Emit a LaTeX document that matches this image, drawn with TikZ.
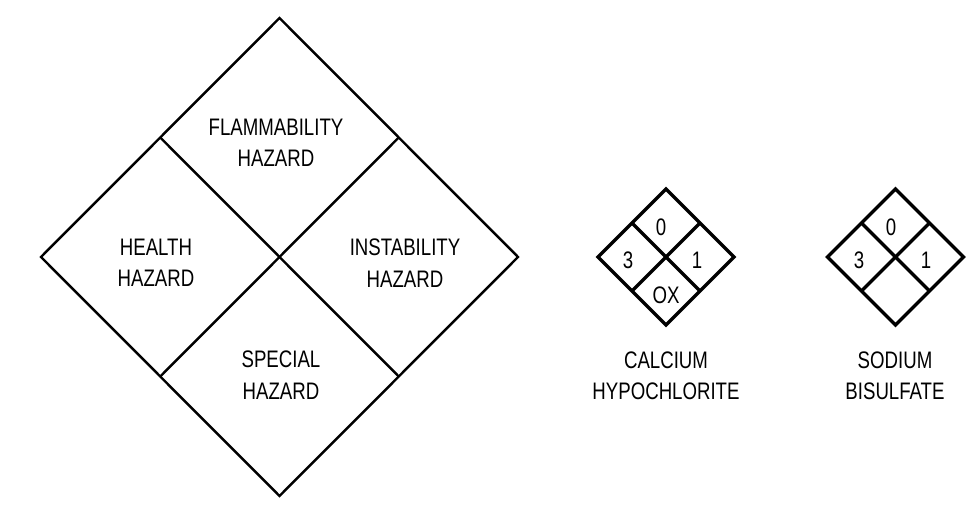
\documentclass[tikz,border=0pt]{standalone}
\usepackage{fontspec}
\setmainfont{Liberation Sans}[FakeStretch=0.78]
\usetikzlibrary{calc}
\tikzset{%
bigline/.style={line width=1.4pt},
smallline/.style={line width=1.9pt},
hazard/.style={align=center, inner sep=0pt, font=\fontsize{13.6}{17.9}\selectfont},
}

\begin{document}
\begin{tikzpicture}[x=0.02cm,y=-0.02cm]
\useasboundingbox (0,0) rectangle (968,509);

% big placard
\coordinate (N) at (279.5,18);
\coordinate (E) at (518,257);
\coordinate (S) at (279.5,496);
\coordinate (W) at (41,257);
\draw[bigline] (N) -- (E) -- (S) -- (W) -- cycle;
\draw[bigline] ($(N)!0.5!(W)$) -- ($(S)!0.5!(E)$);
\draw[bigline] ($(N)!0.5!(E)$) -- ($(S)!0.5!(W)$);

\node[hazard] (flam)   at (276,143) {FLAMMABILITY\\HAZARD};
\node[hazard] (health) at (156,263) {HEALTH\\HAZARD};
\node[hazard] (instab) at (405,263) {INSTABILITY\\HAZARD};
\node[hazard] (spec)   at (281,375) {SPECIAL\\HAZARD};

% calcium hypochlorite
\coordinate (caN) at (666,189);
\coordinate (caE) at (734,257);
\coordinate (caS) at (666,325);
\coordinate (caW) at (598,257);
\draw[smallline] (caN) -- (caE) -- (caS) -- (caW) -- cycle;
\draw[smallline] ($(caN)!0.5!(caW)$) -- ($(caS)!0.5!(caE)$);
\draw[smallline] ($(caN)!0.5!(caE)$) -- ($(caS)!0.5!(caW)$);
\node[hazard] (caflam)   at (661,227) {0};
\node[hazard] (cahealth) at (628,260) {3};
\node[hazard] (cainstab) at (697,260) {1};
\node[hazard] (caspec)   at (666,295) {OX};
\node[hazard] (caname)   at (666,376) {CALCIUM\\HYPOCHLORITE};

% sodium bisulfate
\coordinate (sbN) at (895.5,189);
\coordinate (sbE) at (963.5,257);
\coordinate (sbS) at (895.5,325);
\coordinate (sbW) at (827.5,257);
\draw[smallline] (sbN) -- (sbE) -- (sbS) -- (sbW) -- cycle;
\draw[smallline] ($(sbN)!0.5!(sbW)$) -- ($(sbS)!0.5!(sbE)$);
\draw[smallline] ($(sbN)!0.5!(sbE)$) -- ($(sbS)!0.5!(sbW)$);
\node[hazard] (sbflam)   at (891,227) {0};
\node[hazard] (sbhealth) at (859,260) {3};
\node[hazard] (sbinstab) at (926,260) {1};
\node[hazard] (sbname)   at (895,376) {SODIUM\\BISULFATE};

\end{tikzpicture}
\end{document}
